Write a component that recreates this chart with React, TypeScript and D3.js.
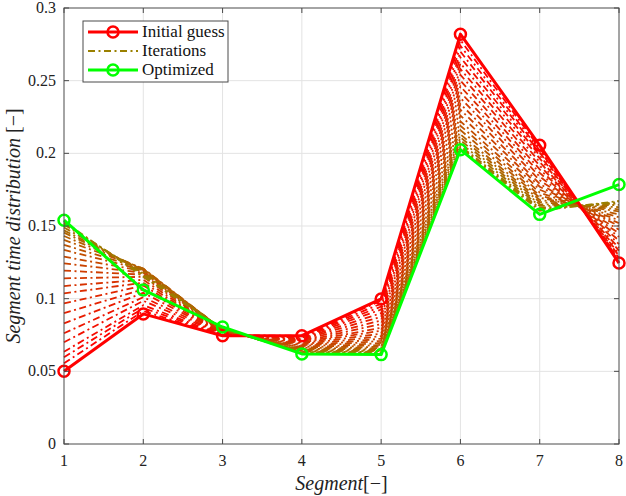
import React from 'react';
import * as d3 from 'd3';

// segment indices
const segments = [1, 2, 3, 4, 5, 6, 7, 8];

// initial guess of the time distribution
const initialGuess = [0.05, 0.0895, 0.0745, 0.0745, 0.0998, 0.282, 0.2055, 0.1245];

// optimized time distribution
const optimized = [0.154, 0.106, 0.0805, 0.062, 0.0615, 0.2025, 0.158, 0.1785];

// intermediate iterations
const iterations = [
  [0.0555, 0.0915, 0.0745, 0.0745, 0.0985, 0.278, 0.2035, 0.1255],
  [0.0597, 0.0935, 0.0748, 0.0742, 0.0965, 0.274, 0.2020, 0.1268],
  [0.0635, 0.0955, 0.0750, 0.0738, 0.0945, 0.270, 0.2005, 0.1280],
  [0.0700, 0.0985, 0.0752, 0.0732, 0.0925, 0.266, 0.1985, 0.1295],
  [0.0762, 0.1010, 0.0755, 0.0726, 0.0900, 0.262, 0.1965, 0.1310],
  [0.0830, 0.1040, 0.0758, 0.0720, 0.0875, 0.258, 0.1940, 0.1330],
  [0.0900, 0.1065, 0.0760, 0.0712, 0.0850, 0.254, 0.1915, 0.1350],
  [0.0968, 0.1090, 0.0763, 0.0705, 0.0825, 0.250, 0.1890, 0.1375],
  [0.1037, 0.1110, 0.0766, 0.0698, 0.0800, 0.246, 0.1865, 0.1400],
  [0.1087, 0.1130, 0.0768, 0.0692, 0.0780, 0.242, 0.1840, 0.1425],
  [0.1140, 0.1150, 0.0771, 0.0685, 0.0760, 0.238, 0.1815, 0.1450],
  [0.1193, 0.1165, 0.0773, 0.0678, 0.0742, 0.234, 0.1790, 0.1475],
  [0.1243, 0.1178, 0.0775, 0.0672, 0.0725, 0.230, 0.1770, 0.1500],
  [0.1289, 0.1190, 0.0778, 0.0666, 0.0710, 0.226, 0.1750, 0.1520],
  [0.1335, 0.1198, 0.0780, 0.0660, 0.0695, 0.222, 0.1730, 0.1540],
  [0.1370, 0.1205, 0.0782, 0.0655, 0.0682, 0.219, 0.1710, 0.1560],
  [0.1404, 0.1208, 0.0784, 0.0650, 0.0670, 0.216, 0.1695, 0.1580],
  [0.1431, 0.1205, 0.0786, 0.0646, 0.0660, 0.213, 0.1680, 0.1600],
  [0.1454, 0.1200, 0.0788, 0.0642, 0.0652, 0.211, 0.1665, 0.1615],
  [0.1470, 0.1192, 0.0789, 0.0638, 0.0645, 0.209, 0.1650, 0.1630],
  [0.1490, 0.1182, 0.0790, 0.0635, 0.0640, 0.207, 0.1638, 0.1645],
  [0.1510, 0.1172, 0.0791, 0.0632, 0.0635, 0.205, 0.1625, 0.1655],
  [0.1520, 0.1162, 0.0792, 0.0630, 0.0630, 0.204, 0.1615, 0.1665],
  [0.1530, 0.1150, 0.0793, 0.0628, 0.0626, 0.2035, 0.1605, 0.1672],
];

const yTicks = [0, 0.05, 0.1, 0.15, 0.2, 0.25, 0.3];
const yTickLabels = ['0', '0.05', '0.1', '0.15', '0.2', '0.25', '0.3'];

const W = 626;
const H = 496;
const margin = { top: 8, right: 7, bottom: 52, left: 64 };
const font = '"Liberation Serif", "DejaVu Serif", serif';
const dashDot = '7,3.5,2,3.5';

const App: React.FC = () => {
  const x = d3.scaleLinear().domain([1, 8]).range([margin.left, W - margin.right]);
  const y = d3.scaleLinear().domain([0, 0.3]).range([H - margin.bottom, margin.top]);

  const line = d3.line<number>()
    .x((_, i) => x(segments[i]))
    .y(d => y(d));

  const iterColor = d3.interpolateRgb('#ff0000', '#9a8000');

  const x0 = x(1), x1 = x(8), y0 = y(0), y1 = y(0.3);
  const axisColor = '#4a4a4a';
  const tick = 5;

  return (
    <svg width={W} height={H} style={{ position: 'absolute', left: 0, top: 0, background: '#fff' }}>
      {/* grid */}
      <g stroke="#e3e3e3" strokeWidth={1}>
        {segments.slice(1, -1).map(s => (
          <line key={'gx' + s} x1={x(s)} x2={x(s)} y1={y0} y2={y1} />
        ))}
        {yTicks.slice(1, -1).map(t => (
          <line key={'gy' + t} x1={x0} x2={x1} y1={y(t)} y2={y(t)} />
        ))}
      </g>

      {/* iterations */}
      <g fill="none" strokeWidth={1.8} strokeDasharray={dashDot}>
        {iterations.map((row, i) => (
          <path key={'it' + i} d={line(row) || ''} stroke={iterColor(i / (iterations.length - 1))} />
        ))}
      </g>

      {/* initial guess */}
      <path d={line(initialGuess) || ''} fill="none" stroke="#ff0000" strokeWidth={3} strokeLinejoin="round" />
      {initialGuess.map((v, i) => (
        <circle key={'ci' + i} cx={x(segments[i])} cy={y(v)} r={5.5} fill="none" stroke="#ff0000" strokeWidth={2.5} />
      ))}

      {/* optimized */}
      <path d={line(optimized) || ''} fill="none" stroke="#00ff00" strokeWidth={3} strokeLinejoin="round" />
      {optimized.map((v, i) => (
        <circle key={'co' + i} cx={x(segments[i])} cy={y(v)} r={5.5} fill="none" stroke="#00ff00" strokeWidth={2.5} />
      ))}

      {/* axes box and ticks */}
      <g stroke={axisColor} strokeWidth={1} fill="none">
        <rect x={x0} y={y1} width={x1 - x0} height={y0 - y1} />
        {segments.map(s => (
          <g key={'tx' + s}>
            <line x1={x(s)} x2={x(s)} y1={y0} y2={y0 - tick} />
            <line x1={x(s)} x2={x(s)} y1={y1} y2={y1 + tick} />
          </g>
        ))}
        {yTicks.map(t => (
          <g key={'ty' + t}>
            <line x1={x0} x2={x0 + tick} y1={y(t)} y2={y(t)} />
            <line x1={x1} x2={x1 - tick} y1={y(t)} y2={y(t)} />
          </g>
        ))}
      </g>

      {/* tick labels */}
      <g fontFamily={font} fontSize={16} fill="#222">
        {segments.map(s => (
          <text key={'lx' + s} x={x(s)} y={y0 + 22} textAnchor="middle">{s}</text>
        ))}
        {yTicks.map((t, i) => (
          <text key={'ly' + t} x={x0 - 8} y={y(t) + 5} textAnchor="end">{yTickLabels[i]}</text>
        ))}
      </g>

      {/* axis labels */}
      <text x={(x0 + x1) / 2} y={H - 6} textAnchor="middle" fontFamily={font} fontSize={20} fill="#222">
        <tspan fontStyle="italic">Segment</tspan>[−]
      </text>
      <text
        transform={`translate(${20},${(y0 + y1) / 2}) rotate(-90)`}
        textAnchor="middle"
        fontFamily={font}
        fontSize={20}
        fill="#222"
      >
        <tspan fontStyle="italic">Segment time distribution</tspan> [−]
      </text>

      {/* legend */}
      <g>
        <rect x={83} y={21} width={145} height={61} fill="#fff" stroke={axisColor} strokeWidth={1} />
        <line x1={88} x2={138} y1={32} y2={32} stroke="#ff0000" strokeWidth={3} />
        <circle cx={113} cy={32} r={5.5} fill="none" stroke="#ff0000" strokeWidth={2.5} />
        <line x1={88} x2={138} y1={51} y2={51} stroke={iterColor(1)} strokeWidth={1.8} strokeDasharray={dashDot} />
        <line x1={88} x2={138} y1={70} y2={70} stroke="#00ff00" strokeWidth={3} />
        <circle cx={113} cy={70} r={5.5} fill="none" stroke="#00ff00" strokeWidth={2.5} />
        <g fontFamily={font} fontSize={17} fill="#111">
          <text x={142} y={37}>Initial guess</text>
          <text x={142} y={56}>Iterations</text>
          <text x={142} y={75}>Optimized</text>
        </g>
      </g>
    </svg>
  );
};

export default App;
